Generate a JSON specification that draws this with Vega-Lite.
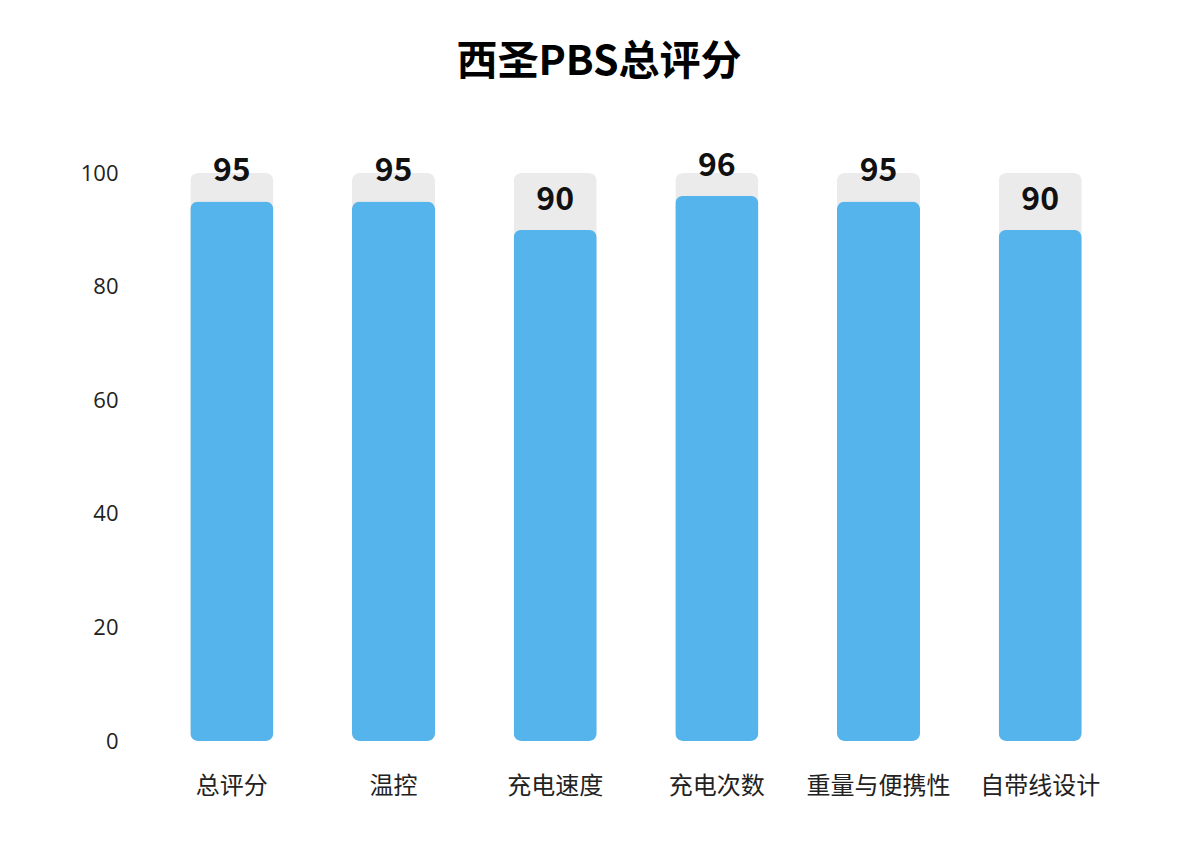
{
  "$schema": "https://vega.github.io/schema/vega-lite/v6.json",
  "width": 970,
  "height": 568,
  "autosize": "none",
  "padding": {"left": 151, "top": 173, "right": 79, "bottom": 100},
  "background": "#ffffff",
  "title": {
    "text": "西圣PBS总评分",
    "fontSize": 41,
    "fontWeight": "bold",
    "font": "Noto Sans CJK SC",
    "color": "#000000",
    "anchor": "middle",
    "dx": -37,
    "offset": 66
  },
  "data": {
    "values": [
      {"item": "总评分", "score": 95, "full": 100},
      {"item": "温控", "score": 95, "full": 100},
      {"item": "充电速度", "score": 90, "full": 100},
      {"item": "充电次数", "score": 96, "full": 100},
      {"item": "重量与便携性", "score": 95, "full": 100},
      {"item": "自带线设计", "score": 90, "full": 100}
    ]
  },
  "encoding": {
    "x": {
      "field": "item",
      "type": "nominal",
      "sort": null,
      "scale": {"paddingInner": 0.486, "paddingOuter": 0.243},
      "axis": {
        "title": null,
        "domain": false,
        "ticks": false,
        "labelAngle": 0,
        "labelFontSize": 24,
        "labelFont": "Noto Sans CJK SC",
        "labelColor": "#222222",
        "labelPadding": 33
      }
    }
  },
  "layer": [
    {
      "mark": {"type": "bar", "color": "#ebebeb", "cornerRadius": 8},
      "encoding": {
        "y": {
          "field": "full",
          "type": "quantitative",
          "scale": {"domain": [0, 100]},
          "axis": {
            "title": null,
            "values": [0, 20, 40, 60, 80, 100],
            "grid": false,
            "domain": false,
            "ticks": false,
            "labelFontSize": 22,
            "labelFont": "Open Sans",
            "labelColor": "#222222",
            "labelPadding": 33
          }
        }
      }
    },
    {
      "mark": {"type": "bar", "color": "#56b4ec", "cornerRadius": 8},
      "encoding": {
        "y": {"field": "score", "type": "quantitative"}
      }
    },
    {
      "mark": {
        "type": "text",
        "baseline": "bottom",
        "dy": -13,
        "fontSize": 32,
        "fontWeight": "bold",
        "font": "Noto Sans CJK SC",
        "color": "#111111"
      },
      "encoding": {
        "y": {"field": "score", "type": "quantitative"},
        "text": {"field": "score", "type": "quantitative"}
      }
    }
  ],
  "config": {"view": {"stroke": null}}
}
